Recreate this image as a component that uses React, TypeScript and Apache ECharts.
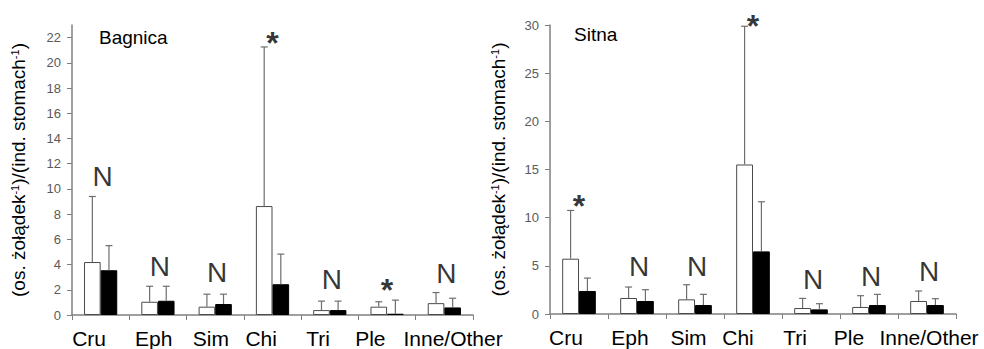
import React, { useEffect, useRef } from "react";
import * as echarts from "echarts";

const categories = ["Cru", "Eph", "Sim", "Chi", "Tri", "Ple", "Inne/Other"];

// Bagnica (left panel)
const bagnicaWhite = [4.2, 1.05, 0.66, 8.64, 0.39, 0.66, 0.94];
const bagnicaWhiteErr = [9.4, 2.28, 1.65, 21.26, 1.1, 1.05, 1.78];
const bagnicaBlack = [3.55, 1.13, 0.87, 2.44, 0.39, 0.1, 0.6];
const bagnicaBlackErr = [5.5, 2.28, 1.65, 4.83, 1.1, 1.18, 1.33];
const bagnicaMarks = ["N", "N", "N", "*", "N", "*", "N"];
const bagnicaMarkLevel = [10.97, 3.88, 3.41, 21.6, 2.8, 1.95, 3.33];
const bagnicaTicks = [0, 2, 4, 6, 8, 10, 12, 14, 16, 18, 20, 22];

// Sitna (right panel)
const sitnaWhite = [5.74, 1.66, 1.52, 15.52, 0.62, 0.73, 1.35];
const sitnaWhiteErr = [10.75, 2.8, 3.04, 29.87, 1.62, 1.9, 2.39];
const sitnaBlack = [2.39, 1.35, 0.93, 6.5, 0.48, 0.93, 0.93];
const sitnaBlackErr = [3.73, 2.52, 2.04, 11.65, 1.07, 2.04, 1.59];
const sitnaMarks = ["*", "N", "N", "*", "N", "N", "N"];
const sitnaMarkLevel = [11.2, 4.94, 4.94, 29.9, 3.56, 3.9, 4.42];

const FONT = "'Liberation Sans', Arial, sans-serif";
const BAR_FRAC = 0.29;
const AXIS_COLOR = "#808080";

// horizontal shifts of category labels (px), as laid out in the original
const leftLabelShift = [-11.6, -4.3, -4.3, -11.3, -11.7, -16.7, 8.7];
const rightLabelShift = [-13, -7, -6.5, -15, -16, -20, 2];

function richFor(prefix: string, shifts: number[]) {
  const rich: any = {};
  shifts.forEach((d, i) => {
    rich[prefix + i] = {
      fontSize: 21,
      fontFamily: FONT,
      color: "#000",
      padding: d < 0 ? [0, -2 * d, 0, 0] : [0, 0, 0, 2 * d],
    };
  });
  return rich;
}

function errorSeries(vals: number[], errs: number[], side: number, axisIdx: number) {
  return {
    type: "custom",
    xAxisIndex: axisIdx,
    yAxisIndex: axisIdx,
    z: 5,
    data: vals.map((v, i) => [i, v, errs[i]]),
    renderItem: (params: any, api: any) => {
      const i = api.value(0);
      const v = api.value(1);
      const e = api.value(2);
      const bw = api.size([1, 0])[0];
      const off = (side * bw * BAR_FRAC) / 2;
      const p0 = api.coord([i, v]);
      const p1 = api.coord([i, e]);
      const x = p0[0] + off;
      const style = { stroke: "#6e6e6e", lineWidth: 1.2 };
      return {
        type: "group",
        children: [
          { type: "line", shape: { x1: x, y1: p0[1], x2: x, y2: p1[1] }, style },
          { type: "line", shape: { x1: x - 3.5, y1: p1[1], x2: x + 3.5, y2: p1[1] }, style },
        ],
      };
    },
  };
}

function markSeries(levels: number[], marks: string[], axisIdx: number) {
  return {
    type: "scatter",
    xAxisIndex: axisIdx,
    yAxisIndex: axisIdx,
    symbol: "circle",
    symbolSize: 1,
    clip: false,
    z: 6,
    silent: true,
    itemStyle: { color: "rgba(0,0,0,0)" },
    data: levels.map((v, i) => ({
      value: [i, v],
      label:
        marks[i] === "*"
          ? { fontSize: 32, fontWeight: "bold", color: "#000", offset: [0, 0] }
          : { fontSize: 28, fontWeight: "normal", color: "#000", offset: [2, 0] },
    })),
    label: {
      show: true,
      position: "inside",
      formatter: (p: any) => marks[p.dataIndex],
      color: "#000",
      textBorderWidth: 0,
      textBorderColor: "transparent",
      fontFamily: FONT,
      fontSize: 28,
    },
  };
}

const yName = "(os. żołądek{s|-1})/(ind. stomach{s|-1})";

function xAxis(gridIndex: number, prefix: string, shifts: number[]) {
  return {
    type: "category",
    gridIndex,
    data: categories,
    boundaryGap: true,
    axisLine: { lineStyle: { color: AXIS_COLOR, width: 1.5 } },
    axisTick: { show: true, inside: false, length: 5, alignWithLabel: false, lineStyle: { color: AXIS_COLOR } },
    axisLabel: {
      interval: 0,
      margin: 13,
      formatter: (v: string, idx: number) => `{${prefix}${idx}|${v}}`,
      rich: richFor(prefix, shifts),
    },
  };
}

function yAxis(gridIndex: number, max: number, interval: number, nameGap: number, customTicks?: number[]) {
  const ax: any = {
    type: "value",
    gridIndex,
    min: 0,
    max,
    interval,
    name: yName,
    nameLocation: "middle",
    nameGap,
    nameRotate: 90,
    nameTextStyle: {
      fontSize: 19,
      fontFamily: FONT,
      color: "#000",
      rich: {
        s: { fontSize: 11, fontFamily: FONT, color: "#000", verticalAlign: "top" },
      },
    },
    splitLine: { show: false },
    axisLine: { show: true, lineStyle: { color: AXIS_COLOR, width: 1.5 } },
    axisTick: { show: true, inside: false, length: 5, lineStyle: { color: AXIS_COLOR } },
    axisLabel: { fontSize: 13, fontFamily: FONT, color: "#5a5a5a", margin: 11 },
  };
  if (customTicks) {
    ax.axisTick.customValues = customTicks;
    ax.axisLabel.customValues = customTicks;
  }
  return ax;
}

function barSeries(vals: number[], white: boolean, axisIdx: number) {
  return {
    type: "bar",
    xAxisIndex: axisIdx,
    yAxisIndex: axisIdx,
    data: vals,
    barWidth: BAR_FRAC * 100 + "%",
    barGap: "0%",
    itemStyle: {
      color: white ? "#ffffff" : "#000000",
      borderColor: white ? "#4a4a4a" : "#000000",
      borderWidth: 1,
    },
    z: 2,
  };
}

export default function App() {
  const ref = useRef<HTMLDivElement>(null);
  useEffect(() => {
    document.body.style.margin = "0";
    const chart = echarts.init(ref.current!, null, { renderer: "svg" });
    chart.setOption({
      animation: false,
      backgroundColor: "#ffffff",
      textStyle: { fontFamily: FONT },
      title: [
        { text: "Bagnica", left: 99, top: 28, padding: 0, textStyle: { fontSize: 19, fontWeight: "normal", color: "#000", fontFamily: FONT } },
        { text: "Sitna", left: 574, top: 25, padding: 0, textStyle: { fontSize: 19, fontWeight: "normal", color: "#000", fontFamily: FONT } },
      ],
      grid: [
        { left: 72, top: 25, width: 401, height: 292 },
        { left: 550, top: 25, width: 406, height: 289 },
      ],
      xAxis: [xAxis(0, "l", leftLabelShift), xAxis(1, "r", rightLabelShift)],
      yAxis: [yAxis(0, 23, 2, 44, bagnicaTicks), yAxis(1, 30, 5, 42)],
      series: [
        barSeries(bagnicaWhite, true, 0),
        barSeries(bagnicaBlack, false, 0),
        errorSeries(bagnicaWhite, bagnicaWhiteErr, -1, 0),
        errorSeries(bagnicaBlack, bagnicaBlackErr, 1, 0),
        markSeries(bagnicaMarkLevel, bagnicaMarks, 0),
        barSeries(sitnaWhite, true, 1),
        barSeries(sitnaBlack, false, 1),
        errorSeries(sitnaWhite, sitnaWhiteErr, -1, 1),
        errorSeries(sitnaBlack, sitnaBlackErr, 1, 1),
        markSeries(sitnaMarkLevel, sitnaMarks, 1),
      ],
    });
    return () => chart.dispose();
  }, []);
  return <div ref={ref} style={{ width: 984, height: 349 }} />;
}
